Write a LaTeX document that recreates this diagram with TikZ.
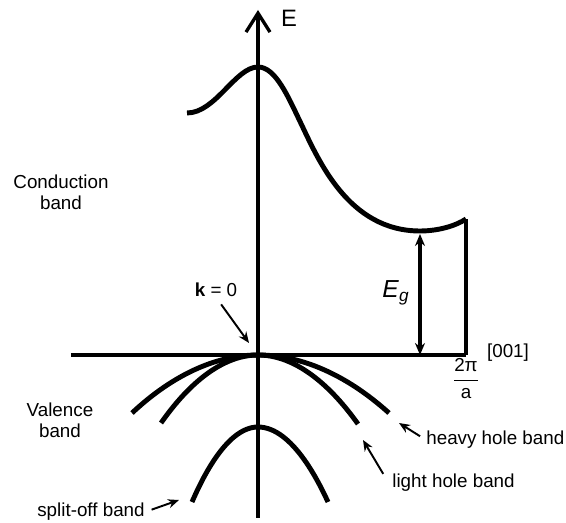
\documentclass[tikz,border=0pt]{standalone}
\usepackage{fontspec}
\usepackage{amsmath}
\setmainfont{Liberation Sans}
\usetikzlibrary{arrows.meta,positioning}

\begin{document}
\begin{tikzpicture}[
  axis/.style={line width=1.9pt},
  band/.style={line width=2.8pt},
  ptr/.style={-{Stealth[length=2.2mm,width=1.8mm]}, line width=1.1pt},
  lbl/.style={font=\fontsize{10.7}{12}\selectfont, inner sep=0pt}
]
\useasboundingbox (-5.16,-3.36) rectangle (6.16,7.10);
% axes
\coordinate (O) at (0,0);
\coordinate (kleft) at (-3.74,0);
\coordinate (kright) at (4.16,0);
\coordinate (Ebot) at (0,-3.26);
\coordinate (Etop) at (0,6.90);
\draw[axis, -{Straight Barb[length=3.8mm,width=4.8mm]}] (Ebot) -- (Etop);
\draw[axis] (kleft) -- (kright);
\node[lbl, font=\fontsize{13.5}{16}\selectfont] (E) at (0.62,6.74) {E};
\node[lbl] (dir) at (5.0,0.04) {[001]};
\node[lbl, font=\fontsize{10.7}{12}\selectfont] (zb) at (4.16,-0.47) {$\dfrac{\text{2π}}{\text{a}}$};

% conduction band
\coordinate (cbpeak) at (0,5.76);
\coordinate (cbmin) at (3.24,2.48);
\coordinate (cbX) at (4.16,2.72);
\draw[band] (-1.42,4.84) .. controls (-0.85,4.84) and (-0.45,5.76) .. (cbpeak)
  .. controls (0.35,5.76) and (0.60,5.17) .. (0.85,4.65)
  .. controls (1.20,3.92) and (1.80,2.48) .. (cbmin)
  .. controls (3.60,2.48) and (3.95,2.58) .. (cbX);
\coordinate (gaptop) at (3.24,2.42);
\coordinate (vbX) at (3.24,0);
\draw[axis] (kright) -- (cbX);
\draw[axis, {Stealth[length=2.4mm,width=2mm]}-{Stealth[length=2.4mm,width=2mm]}] (gaptop) -- (vbX);
\node[lbl, font=\fontsize{14}{16}\selectfont] (Eg) at (2.76,1.24) {\textit{E}\textsubscript{\textit{g}}};

% valence bands
\draw[band] (-2.52,-1.16) parabola bend (O) (2.62,-1.16);
\draw[band] (-1.94,-1.36) parabola bend (O) (2.0,-1.38);
\draw[band] (-1.32,-2.94) parabola bend (0,-1.44) (1.40,-2.94);

% labels
\node[lbl, align=center] (cblabel) at (-3.94,3.26) {Conduction\\band};
\node[lbl, align=center] (vblabel) at (-3.96,-1.30) {Valence\\band};
\node[lbl] (kzero) at (-0.84,1.30) {\textbf{k} = 0};
\coordinate (kzhead) at (-0.18,0.24);
\draw[ptr, shorten <=5pt] (kzero.south) -- (kzhead);

\node[lbl, anchor=west] (hhlabel) at (3.36,-1.70) {heavy hole band};
\coordinate (hhhead) at (2.82,-1.36);
\draw[ptr, shorten <=4pt] (hhlabel.west) -- (hhhead);

\node[lbl, anchor=west] (lhlabel) at (2.68,-2.56) {light hole band};
\coordinate (lhhead) at (2.10,-1.70);
\draw[ptr] ([xshift=-5pt]lhlabel.north west) -- (lhhead);

\node[lbl, anchor=east] (solabel) at (-2.26,-3.14) {split-off band};
\coordinate (sohead) at (-1.58,-2.90);
\draw[ptr, shorten <=4pt] (solabel.east) -- (sohead);
\end{tikzpicture}
\end{document}
